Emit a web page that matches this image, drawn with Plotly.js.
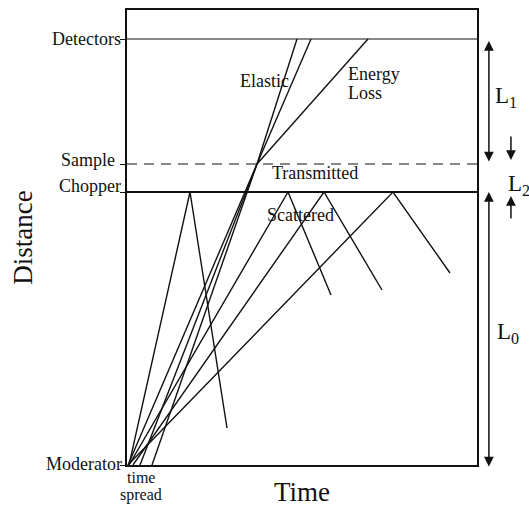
<!DOCTYPE html>
<html><head><meta charset="utf-8">
<script src="https://cdn.plot.ly/plotly-3.0.1.min.js"></script>
<style>html,body{margin:0;padding:0;background:#fff}</style>
</head><body><div id="chart" style="width:529px;height:508px"></div>
<script>
// Distance levels (axis units) and their names
const levelNames = ['Moderator', 'Chopper', 'Sample', 'Detectors'];
const levelDist = [0, 273, 301, 426];

// Neutrons scattered back at the chopper: start time, time at chopper, end time/end distance
const scatStartT = [2, 2, 6, 1];
const scatPeakT = [63, 161, 197, 266];
const scatEndT = [100, 204, 255, 323];
const scatEndD = [37, 170, 175, 192];

// Transmitted bundle: start times at moderator, meeting at the sample
const transStartT = [1, 13, 25];
const sampleT = [130];
// Arrival times at detectors after the sample
const elasticT = [170, 184];
const lossT = [241];

const ink = '#111';
const traces = [];
function seg(x, y, w, dash) {
  traces.push({type: 'scatter', mode: 'lines', x: x, y: y, hoverinfo: 'skip',
    line: {color: ink, width: w, dash: dash || 'solid'}, showlegend: false});
}
// level lines
seg([0, 350], [levelDist[1], levelDist[1]], 2);
seg([0, 350], [levelDist[2], levelDist[2]], 1.2, '10px,7px');
seg([0, 350], [levelDist[3], levelDist[3]], 1.2);
// scattered paths
for (let i = 0; i < scatStartT.length; i++) {
  seg([scatStartT[i], scatPeakT[i], scatEndT[i]], [levelDist[0], levelDist[1], scatEndD[i]], 1.4);
}
// transmitted bundle
for (let i = 0; i < transStartT.length; i++) {
  seg([transStartT[i], sampleT[0]], [levelDist[0], levelDist[2]], 1.4);
}
// elastic and energy loss
for (const t of elasticT.concat(lossT)) {
  seg([sampleT[0], t], [levelDist[2], levelDist[3]], 1.4);
}

const serif = 'Liberation Serif, Times New Roman, serif';
function label(text, x, y, size, xanchor, xref, yref) {
  return {text: text, x: x, y: y, xref: xref || 'x', yref: yref || 'y', showarrow: false,
    xanchor: xanchor || 'center', yanchor: 'middle', font: {family: serif, size: size, color: ink}};
}
function arrow(x, y, ay, both) {
  return {text: '', x: x, y: y, xref: 'paper', yref: 'y', ax: 0, ay: ay, showarrow: true,
    arrowhead: 2, arrowsize: 1.3, arrowwidth: 1.5, arrowcolor: ink, arrowside: both ? 'end+start' : 'end'};
}

const levelShift = [1, 6, 4, 0];
const levelX = [-0.009, -0.011, -0.028, -0.011];
const annotations = levelNames.map((n, i) => {
  const a = label(n, levelX[i], levelDist[i], 18, 'right', 'paper', 'y');
  a.yshift = levelShift[i];
  return a;
}).concat([
  label('Elastic', 137.5, 384, 18),
  label('Energy', 219, 391, 18, 'left'),
  label('Loss', 219, 372, 18, 'left'),
  label('Transmitted', 188, 292, 18),
  label('Scattered', 173, 250, 18),
  label('time', 0.04, -0.028, 16, 'center', 'paper', 'paper'),
  label('spread', 0.04, -0.067, 16, 'center', 'paper', 'paper'),
  label('L<sub>1</sub>', 1.083, 368, 23, 'center', 'paper', 'y'),
  label('L<sub>2</sub>', 1.12, 280, 23, 'center', 'paper', 'y'),
  label('L<sub>0</sub>', 1.088, 132, 23, 'center', 'paper', 'y'),
  arrow(1.034, 424, 122, true),
  arrow(1.034, 273, 276, true),
  arrow(1.097, 305, -25, false),
  arrow(1.097, 269, 24, false)
]);

const layout = {
  width: 529, height: 508,
  margin: {l: 127, r: 52, t: 10, b: 43},
  paper_bgcolor: '#fff', plot_bgcolor: '#fff',
  font: {family: serif, color: ink},
  xaxis: {range: [0, 350], showgrid: false, zeroline: false, showticklabels: false, ticks: '',
    showline: true, mirror: true, linewidth: 2, linecolor: ink,
    title: {text: 'Time', font: {family: serif, size: 27, color: ink}, standoff: 16}},
  yaxis: {range: [0, 455], showgrid: false, zeroline: false, showline: true, mirror: true,
    linewidth: 2, linecolor: ink, tickmode: 'array', tickvals: levelDist, showticklabels: false,
    ticks: 'outside', ticklen: 5, tickwidth: 1, tickcolor: ink,
    title: {text: 'Distance', font: {family: serif, size: 27, color: ink}, standoff: 80}},
  annotations: annotations,
  showlegend: false
};
Plotly.newPlot('chart', traces, layout, {displayModeBar: false, staticPlot: true});
</script></body></html>
